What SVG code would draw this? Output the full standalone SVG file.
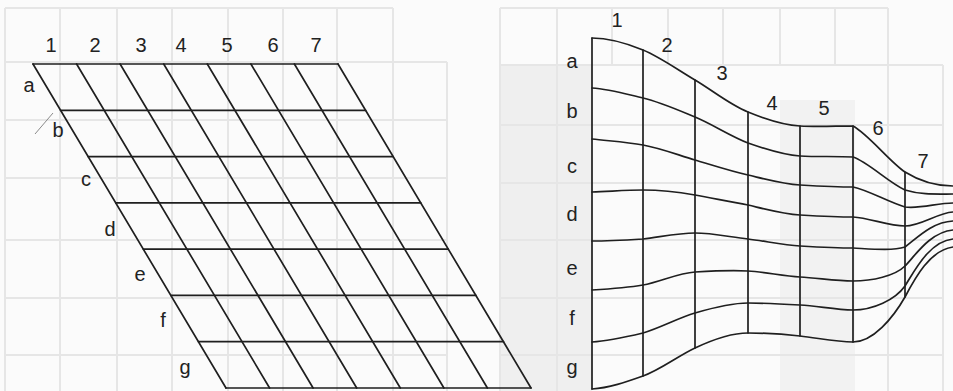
<svg xmlns="http://www.w3.org/2000/svg" width="953" height="391" viewBox="0 0 953 391">
  <style>
    .bg { stroke: #e6e6e6; stroke-width: 2; fill: none; }
    .ln { stroke: #1f1f1f; stroke-width: 1.7; fill: none; stroke-linecap: round; }
    .lbl { font-family: "Liberation Sans", Arial, sans-serif; font-size: 20px; fill: #222; text-anchor: middle; }
  </style>
  <rect width="953" height="391" fill="#fbfbfb"/>
  <!-- faint background (bleed-through grid) -->
  <g id="background">
    <rect x="500" y="65" width="92" height="326" fill="#efefef"/>
    <rect x="780" y="100" width="75" height="291" fill="#f2f2f2"/>
    <g class="bg">
      <path d="M5 8V391M60 8V391M117 8V391M172 8V391M228 8V391M283 8V391M337 8V391M393 8V391M447 62V391"/>
      <path d="M5 8H393M5 62H447M5 120H447M5 178H447M5 240H447M5 298H447M5 355H447"/>
      <path d="M500 8V391M557 8V391M612 8V65M668 8V65M723 8V65M780 8V65M835 8V65M888 8V391M943 65V391"/>
      <path d="M500 8H888M500 65H943M500 125H943M500 183H943M500 240H943M500 298H943M500 355H943"/>
    </g>
  </g>

  <!-- left: sheared grid -->
  <g id="left-grid" class="ln">
    <path d="M33 64H338M60.6 110.3H365.6M88.2 156.6H393.2M115.8 202.9H420.8M143.3 249.1H448.3M170.9 295.4H475.9M198.5 341.7H503.5M226 388H531"/>
    <path d="M33 64L226 388M76.6 64L269.6 388M120.1 64L313.1 388M163.7 64L356.7 388M207.3 64L400.3 388M250.9 64L443.9 388M294.4 64L487.4 388M338 64L531 388"/>
  </g>
  <line id="left-mark" x1="35" y1="134" x2="53" y2="113" stroke="#8a8a8a" stroke-width="1"/>
  <g id="left-labels" class="lbl">
    <text x="51" y="52">1</text>
    <text x="95" y="52">2</text>
    <text x="141" y="52">3</text>
    <text x="181" y="52">4</text>
    <text x="227" y="52">5</text>
    <text x="273" y="52">6</text>
    <text x="316" y="52">7</text>
    <text x="29" y="92">a</text>
    <text x="58" y="137">b</text>
    <text x="86" y="186">c</text>
    <text x="110" y="236">d</text>
    <text x="140" y="281">e</text>
    <text x="163" y="327">f</text>
    <text x="185" y="374">g</text>
  </g>

  <!-- right: distorted grid -->
  <g id="right-columns" class="ln">
    <path d="M592 38V389M643 50V376M695 80V348M748 112V333M800 126V336M853 126V342M905 172V297"/>
  </g>
  <g id="right-rows" class="ln">
    <path d="M592 38C609 38 626 43 643 50C660 57 678 70 695 80C712 90 730 105 748 112C765 119 783 125 800 126C818 127 836 126 853 126C868 134 890 162 905 172C921 182 937 186 953 186"/>
    <path d="M592 88C609 89 626 94 643 98C660 102 678 110 695 117C712 124 730 136 748 143C765 149 783 155 800 156C818 157 836 156 853 157C868 162 888 182 905 190C921 195 937 194 953 194"/>
    <path d="M592 139C609 141 626 142 643 145C660 148 678 155 695 160C712 165 730 171 748 175C765 179 783 184 800 185C818 186 836 187 853 187C868 190 888 202 905 207C921 209 937 203 953 203"/>
    <path d="M592 192C609 191.5 626 190 643 190C660 190 678 192 695 195C712 198 730 202 748 205C765 209 783 214 800 215C818 216 836 217 853 217C870 218 888 226 905 226C921 226 937 213 953 212"/>
    <path d="M592 241C609 241 626 240 643 239C660 237 678 233 695 233C712 233 730 237 748 239C765 241 783 245 800 246C818 247 836 248 853 248C872 249 892 251 905 247C917 238 932 222 953 221"/>
    <path d="M592 290C609 289 626 288 643 285C660 282 678 273 695 272C712 271 730 270 748 271C765 272 783 276 800 277C818 278 836 281 853 281C872 281 895 276 905 266C915 256 930 232 953 230"/>
    <path d="M592 342C609 341 626 337 643 333C660 328 678 318 695 313C712 308 730 303 748 303C765 303 783 304 800 305C818 306 836 310 853 310C873 310 895 300 905 286C915 270 930 241 953 239"/>
    <path d="M592 389C609 388 626 382 643 376C660 370 678 356 695 348C712 340 730 333 748 333C765 333 783 334 800 336C818 338 836 342 853 342C873 342 893 318 905 297C915 278 930 250 953 247"/>
  </g>
  <g id="right-labels" class="lbl">
    <text x="617" y="27">1</text>
    <text x="667" y="52">2</text>
    <text x="722" y="80">3</text>
    <text x="772" y="110">4</text>
    <text x="824" y="115">5</text>
    <text x="878" y="135">6</text>
    <text x="923" y="168">7</text>
    <text x="572" y="68">a</text>
    <text x="572" y="118">b</text>
    <text x="572" y="173">c</text>
    <text x="572" y="221">d</text>
    <text x="572" y="275">e</text>
    <text x="572" y="325">f</text>
    <text x="572" y="374">g</text>
  </g>
</svg>
